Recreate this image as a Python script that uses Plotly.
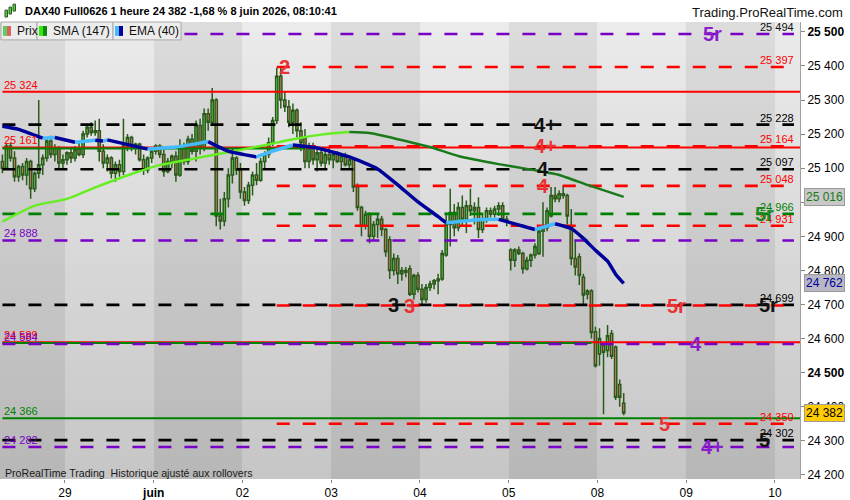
import plotly.graph_objects as go

# ---- hourly bars (22 bars per session) ----
opens = [25120, 25100, 25165, 25130, 25075, 25105, 25080, 25120, 25040, 25085,
         25110, 25130, 25180, 25140, 25160, 25115, 25125, 25145, 25130, 25155,
         25140, 25200, 25220, 25205, 25210, 25150, 25115, 25130, 25085, 25110,
         25090, 25165, 25190, 25160, 25170, 25125, 25095, 25130, 25150, 25165,
         25140, 25090, 25120, 25135, 25080, 25160, 25120, 25185, 25150, 25225,
         25160, 25260, 25235, 25300, 24960, 24945, 25010, 25080, 25130, 25095,
         25030, 25005, 25050, 25080, 25065, 25120, 25140, 25175, 25240, 25370,
         25300, 25280, 25235, 25270, 25210, 25190, 25120, 25160, 25125, 25145,
         25115, 25140, 25125, 25140, 25120, 25135, 25110, 25125, 25045, 24985,
         24930, 24965, 24900, 24935, 24950, 24920, 24890, 24800, 24835, 24790,
         24800, 24805, 24730, 24785, 24745, 24715, 24750, 24760, 24770, 24775,
         24845, 24935, 24970, 24925, 24985, 24950, 24990, 24975, 24985, 24920,
         24950, 24975, 24965, 24980, 24990, 24950, 24860, 24830, 24860, 24850,
         24805, 24830, 24845, 24850, 24915, 24925, 24960, 25020, 25010, 25025,
         25020, 24930, 24835, 24840, 24780, 24730, 24740, 24620, 24555, 24580,
         24565, 24615, 24575, 24465, 24410]
highs = [25140, 25175, 25175, 25150, 25110, 25115, 25130, 25125, 25090, 25300,
         25140, 25190, 25195, 25170, 25165, 25140, 25150, 25160, 25165, 25175,
         25210, 25225, 25235, 25240, 25245, 25170, 25140, 25135, 25120, 25125,
         25245, 25200, 25195, 25175, 25175, 25140, 25135, 25160, 25170, 25170,
         25160, 25130, 25140, 25150, 25185, 25175, 25195, 25200, 25240, 25245,
         25275, 25275, 25335, 25305, 25010, 25030, 25100, 25160, 25135, 25115,
         25045, 25060, 25090, 25115, 25130, 25150, 25190, 25250, 25395, 25397,
         25325, 25300, 25290, 25275, 25235, 25215, 25175, 25175, 25165, 25160,
         25150, 25160, 25150, 25150, 25140, 25145, 25135, 25130, 25055, 24990,
         24975, 24970, 24945, 24965, 24960, 24925, 24900, 24850, 24845, 24810,
         24810, 24815, 24790, 24795, 24760, 24760, 24770, 24775, 24790, 24860,
         24970, 25040, 24995, 25000, 25020, 25005, 25040, 25000, 25015, 24965,
         24985, 24985, 24990, 25000, 25000, 24960, 24865, 24865, 24870, 24855,
         24840, 24850, 24880, 24920, 25000, 24985, 25045, 25045, 25035, 25050,
         25025, 24980, 24890, 24850, 24790, 24745, 24745, 24635, 24630, 24590,
         24640, 24625, 24580, 24480, 24440]
lows = [25085, 25095, 25120, 25060, 25060, 25065, 25050, 25010, 25030, 25070,
        25080, 25120, 25130, 25120, 25100, 25100, 25110, 25115, 25120, 25135,
        25130, 25190, 25195, 25195, 25120, 25100, 25090, 25070, 25060, 25075,
        25080, 25150, 25150, 25140, 25120, 25080, 25085, 25115, 25140, 25130,
        25075, 25085, 25100, 25060, 25075, 25110, 25110, 25140, 25120, 25140,
        25150, 25210, 25225, 24930, 24920, 24930, 24985, 25055, 25080, 25010,
        24990, 24995, 25020, 25050, 25060, 25100, 25130, 25165, 25230, 25275,
        25265, 25220, 25200, 25190, 25150, 25100, 25100, 25110, 25090, 25105,
        25100, 25110, 25100, 25115, 25100, 25105, 25095, 25030, 24975, 24900,
        24920, 24880, 24890, 24895, 24900, 24840, 24775, 24785, 24760, 24770,
        24780, 24725, 24715, 24735, 24700, 24705, 24740, 24745, 24730, 24770,
        24840, 24870, 24900, 24915, 24930, 24910, 24960, 24935, 24895, 24910,
        24940, 24955, 24955, 24960, 24945, 24930, 24800, 24810, 24845, 24790,
        24800, 24810, 24835, 24845, 24840, 24915, 24955, 25000, 25000, 25010,
        24935, 24815, 24785, 24757, 24700, 24715, 24600, 24515, 24520, 24378,
        24545, 24540, 24420, 24400, 24375]
closes = [25100, 25165, 25130, 25075, 25105, 25080, 25120, 25040, 25085, 25110,
          25130, 25180, 25140, 25160, 25115, 25125, 25145, 25130, 25155, 25140,
          25200, 25220, 25205, 25210, 25150, 25115, 25130, 25085, 25110, 25090,
          25165, 25190, 25160, 25170, 25125, 25095, 25130, 25150, 25165, 25140,
          25090, 25120, 25135, 25080, 25160, 25120, 25185, 25150, 25225, 25160,
          25260, 25235, 25300, 24960, 24945, 25010, 25080, 25130, 25095, 25030,
          25005, 25050, 25080, 25065, 25120, 25140, 25175, 25240, 25370, 25300,
          25280, 25235, 25270, 25210, 25175, 25120, 25160, 25125, 25145, 25115,
          25140, 25125, 25140, 25120, 25135, 25110, 25125, 25045, 24985, 24930,
          24965, 24900, 24935, 24950, 24920, 24855, 24800, 24835, 24790, 24800,
          24795, 24730, 24785, 24745, 24715, 24750, 24760, 24770, 24775, 24850,
          24935, 24970, 24925, 24985, 24950, 24990, 24975, 24985, 24920, 24950,
          24975, 24965, 24980, 24990, 24950, 24945, 24830, 24860, 24850, 24805,
          24830, 24845, 24870, 24915, 24925, 24975, 25020, 25010, 25025, 25020,
          24960, 24835, 24810, 24785, 24728, 24740, 24618, 24520, 24600, 24560,
          24608, 24548, 24428, 24428, 24382]

# moving averages, read at a few bars
sma_bar = [0, 8, 16, 24, 32, 39, 47, 56, 64, 72, 80, 86, 91, 98, 106, 113, 123, 130, 138, 145, 154]
sma_val = [24943, 24990, 25010, 25048, 25083, 25109, 25127, 25147, 25165, 25185, 25200, 25206,
           25203, 25185, 25162, 25136, 25112, 25098, 25080, 25051, 25016]
ema_bar = [0, 4, 10, 13, 18, 23, 25, 26, 36, 43, 50, 51, 56, 63, 67, 72, 78, 86, 93, 98, 103,
           108, 110, 118, 123, 132, 137, 141, 144, 147, 150, 152, 154]
ema_val = [25223, 25214, 25188, 25190, 25176, 25182, 25180, 25183, 25156, 25162, 25176, 25178,
           25150, 25133, 25150, 25168, 25159, 25133, 25098, 25051, 25001, 24958, 24940, 24949,
           24950, 24920, 24937, 24923, 24894, 24859, 24827, 24789, 24762]

day_names = ["29", "juin", "02", "03", "04", "05", "08", "09", "10"]
first_day_bar = 16
bars_per_day = 22
price_ticks = list(range(24200, 25501, 100))

# horizontal levels
level_price = [25324, 25161, 25158, 24589, 24587, 24366,
               25494, 25397, 25228, 25164, 25097, 25048, 24966, 24931, 24888,
               24699, 24697, 24584, 24350, 24302, 24282]
level_kind = ["red solid", "red solid", "grn solid", "red solid", "grn solid", "grn solid",
              "pur dash", "red dash", "blk dash", "red dash", "blk dash", "red dash", "grn dash",
              "red dash", "pur dash", "blk dash", "red dash", "pur dash", "red dash", "blk dash",
              "pur dash"]
level_from = [0, 0, 0, 0, 0, 0, 0, 68, 0, 68, 0, 68, 0, 68, 0, 0, 68, 0, 68, 0, 0]
level_to = [None, None, 75, None, 146, None, None, None, None, None, None, None, None, None,
            None, None, None, None, None, None, None]
level_note = ["L", "L", "", "L", "", "L", "R", "R", "R", "R", "R", "R", "R", "R", "L",
              "R", "", "L", "R", "R", "L"]

tag_text = ["5r", "2", "4+", "4+", "4", "4", "5r", "3", "3", "5r", "5r", "4", "5", "5", "4+"]
tag_price = [25494, 25397, 25228, 25164, 25097, 25048, 24966, 24699, 24697, 24697, 24699,
             24584, 24350, 24302, 24282]
tag_bar = [176, 70, 134.5, 134.5, 134, 134, 189, 97, 101, 167, 190, 172, 164, 189, 176]
tag_kind = ["pur", "red", "blk", "red", "blk", "red", "grn", "blk", "red", "red", "blk",
            "pur", "red", "blk", "pur"]

title_text = "DAX40 Full0626 1 heure 24 382 -1,68 % 8 juin 2026, 08:10:41"
site_text = "Trading.ProRealTime.com"
foot_text = "ProRealTime Trading  Historique ajusté aux rollovers"

# ---- styling ----
LINE_INK = {"red": "#ff0000", "blk": "#000000", "pur": "#7a00c8", "grn": "#008000"}
TAG_INK = {"red": "#e83434", "blk": "#111111", "pur": "#8a1ecc", "grn": "#1e8a1e"}
DASH = "13px,13px"
X0, X1 = -0.6, 197.7
Y0, Y1 = 24188, 25529
DASH_END = 196.2
FONT = "Liberation Sans, Arial, sans-serif"


def fmt(v):
    return f"{v:,}".replace(",", " ")


def px(x):  # pixel -> paper x
    return x / 800


def py(y):  # pixel -> paper y
    return (482 - y) / 460


fig = go.Figure()

# day bands with a vertical gradient (heatmap sits below the candles)
edges = [X0] + [first_day_bar - 0.5 + i * bars_per_day for i in range(len(day_names))] + [X1]
rows = 46
row_edges = [Y0 + (Y1 - Y0) * r / rows for r in range(rows + 1)]
shade = []
for r in range(rows):
    f = (r + 0.5) / rows
    shade.append([(198 + 37 * f) if k % 2 else (183 + 37 * f) for k in range(len(edges) - 1)])
fig.add_trace(go.Heatmap(x=edges, y=row_edges, z=shade, zmin=183, zmax=235, showscale=False,
                         colorscale=[[0, "rgb(183,183,183)"], [1, "rgb(235,235,235)"]],
                         hoverinfo="skip"))

# candles
fig.add_trace(go.Candlestick(
    x=list(range(len(opens))), open=opens, high=highs, low=lows, close=closes,
    increasing=dict(line=dict(color="#2b5a1c", width=1.5), fillcolor="#5fd94f"),
    decreasing=dict(line=dict(color="#2b5a1c", width=1.5), fillcolor="#e9806e"),
    whiskerwidth=0, hoverinfo="skip"))

# levels
annots = []
for p, kind, a, b, note in zip(level_price, level_kind, level_from, level_to, level_note):
    ink, style = kind.split()
    if b is None:
        b = X1 if style == "solid" else DASH_END
    fig.add_trace(go.Scatter(
        x=[a, b], y=[p, p], mode="lines", hoverinfo="skip",
        line=dict(color=LINE_INK[ink], width=2 if style == "solid" else 2.6,
                  dash="solid" if style == "solid" else DASH)))
    if note == "L":
        annots.append(dict(x=px(2), xref="paper", y=p, yref="y", text=fmt(p), showarrow=False,
                           xanchor="left", yanchor="bottom", yshift=-1,
                           font=dict(size=11, color=LINE_INK[ink])))
    elif note == "R":
        col = "#111111" if ink == "pur" else LINE_INK[ink]
        annots.append(dict(x=196.6, y=p, text=fmt(p), showarrow=False,
                           xanchor="right", yanchor="bottom", yshift=-1,
                           font=dict(size=11, color=col)))


def colored_runs(xs, ys, up, down):
    runs = []
    for i in range(len(xs) - 1):
        c = up if ys[i + 1] > ys[i] else down
        if runs and runs[-1][0] == c:
            runs[-1][1].append(i + 1)
        else:
            runs.append([c, [i, i + 1]])
    return runs


for c, idx in colored_runs(sma_bar, sma_val, "#66ee22", "#1a7a1a"):
    fig.add_trace(go.Scatter(x=[sma_bar[j] for j in idx], y=[sma_val[j] for j in idx],
                             mode="lines", line=dict(color=c, width=2.5, shape="spline", smoothing=0.5),
                             hoverinfo="skip"))
for c, idx in colored_runs(ema_bar, ema_val, "#44bbff", "#00009a"):
    fig.add_trace(go.Scatter(x=[ema_bar[j] for j in idx], y=[ema_val[j] for j in idx],
                             mode="lines", line=dict(color=c, width=3.5, shape="spline", smoothing=0.5),
                             hoverinfo="skip"))

# big level tags
for t, p, b, k in zip(tag_text, tag_price, tag_bar, tag_kind):
    annots.append(dict(x=b, y=p, text=f"<b>{t}</b>", showarrow=False, xanchor="center",
                       yanchor="middle", font=dict(size=20, color=TAG_INK[k])))

# value boxes on the price axis
for v, fg, bg in [(sma_val[-1], "#1a7a1a", "#c8c8c8"), (ema_val[-1], "#00009a", "#b8b8c4"),
                  (closes[-1], "#000000", "#ffcc00")]:
    annots.append(dict(x=px(804), xref="paper", y=v, yref="y", text=fmt(v), showarrow=False,
                       xanchor="left", yanchor="middle", bgcolor=bg, bordercolor="#9a9a9a",
                       borderwidth=1, borderpad=1, font=dict(size=12, color=fg)))

# header and footer texts
annots += [
    dict(x=px(23), xref="paper", y=py(11), yref="paper", text=f"<b>{title_text}</b>",
         showarrow=False, xanchor="left", yanchor="middle", font=dict(size=11, color="black")),
    dict(x=px(845), xref="paper", y=py(12), yref="paper", text=site_text, showarrow=False,
         xanchor="right", yanchor="middle", font=dict(size=13, color="#111111")),
    dict(x=px(3), xref="paper", y=py(476), yref="paper", text=foot_text, showarrow=False,
         xanchor="left", yanchor="middle", font=dict(size=10.6, color="#1a1a1a")),
]

shapes = []
legend_boxes = [("Prix", 1, 37, "#5fcc5f", "#e06060"), ("SMA (147)", 37, 113, "#33ee00", "#118811"),
                ("EMA (40)", 113, 181, "#44bbff", "#00009a")]
for name, a, b, c1, c2 in legend_boxes:
    shapes.append(dict(type="rect", xref="paper", yref="paper", x0=px(a), x1=px(b), y0=py(40),
                       y1=py(22), fillcolor="#ececec", line=dict(color="#a8a8a8", width=1)))
    shapes.append(dict(type="rect", xref="paper", yref="paper", x0=px(a + 2), x1=px(a + 6),
                       y0=py(36), y1=py(26), fillcolor=c1, line=dict(width=0)))
    shapes.append(dict(type="rect", xref="paper", yref="paper", x0=px(a + 6), x1=px(a + 10),
                       y0=py(36), y1=py(26), fillcolor=c2, line=dict(width=0)))
    annots.append(dict(x=px(a + 14), xref="paper", y=py(31), yref="paper", text=name,
                       showarrow=False, xanchor="left", yanchor="middle",
                       font=dict(size=12, color="#111111")))
# tiny candle icon in the title
for a, top, bot in [(5, 10, 17), (9, 7, 14), (13, 4, 11)]:
    shapes.append(dict(type="rect", xref="paper", yref="paper", x0=px(a), x1=px(a + 2.5),
                       y0=py(bot), y1=py(top), fillcolor="#55cc44", line=dict(color="#2b5a1c", width=1)))

fig.update_layout(
    width=850, height=500, margin=dict(l=0, r=50, t=22, b=18),
    paper_bgcolor="white", plot_bgcolor="#d0d0d0", showlegend=False,
    font=dict(family=FONT, size=12, color="black"),
    annotations=annots, shapes=shapes, boxgap=0.2,
    xaxis=dict(range=[X0, X1], showgrid=False, zeroline=False, rangeslider=dict(visible=False),
               tickvals=[first_day_bar - 0.5 + i * bars_per_day for i in range(len(day_names))],
               ticktext=[d if d.isdigit() else f"<b>{d}</b>" for d in day_names],
               ticks="outside", ticklen=3, tickcolor="#888888", tickfont=dict(size=12)),
    yaxis=dict(range=[Y0, Y1], side="right", showgrid=False, zeroline=False,
               tickvals=price_ticks,
               ticktext=[f"<b>{fmt(v)}</b>" if v % 500 == 0 else fmt(v) for v in price_ticks],
               ticks="outside", ticklen=4, tickcolor="#888888", showline=True,
               linecolor="#a0a0a0", tickfont=dict(size=12)),
)

# page body margin would shift the figure by 8px
fig.write_html("out.html", config={"displayModeBar": False},
               post_script="document.body.style.margin='0';")
